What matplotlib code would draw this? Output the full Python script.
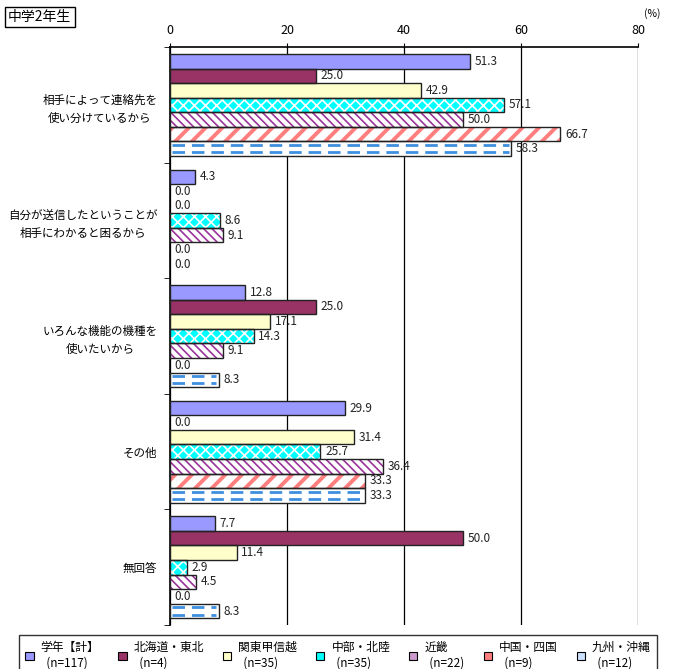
import matplotlib.pyplot as plt
from matplotlib.patches import Patch
import numpy as np

plt.rcParams['font.family'] = ['Noto Sans CJK JP', 'DejaVu Sans']

# --- data ---
categories = [
    "相手によって連絡先を\n使い分けているから",
    "自分が送信したということが\n相手にわかると困るから",
    "いろんな機能の機種を\n使いたいから",
    "その他",
    "無回答",
]
series_names = ["学年【計】", "北海道・東北", "関東甲信越", "中部・北陸", "近畿", "中国・四国", "九州・沖縄"]
series_n = ["(n=117)", "(n=4)", "(n=35)", "(n=35)", "(n=22)", "(n=9)", "(n=12)"]

gakunen = [51.3, 4.3, 12.8, 29.9, 7.7]
hokkaido = [25.0, 0.0, 25.0, 0.0, 50.0]
kanto = [42.9, 0.0, 17.1, 31.4, 11.4]
chubu = [57.1, 8.6, 14.3, 25.7, 2.9]
kinki = [50.0, 9.1, 9.1, 36.4, 4.5]
chugoku = [66.7, 0.0, 0.0, 33.3, 0.0]
kyushu = [58.3, 0.0, 8.3, 33.3, 8.3]
values = [gakunen, hokkaido, kanto, chubu, kinki, chugoku, kyushu]

# style: (face, hatch, hatch colour)
styles = [
    ("#9999FF", None, None),
    ("#993366", None, None),
    ("#FFFFCC", None, None),
    ("#00FFFF", "xxx", "white"),
    ("white", "\\\\\\\\", "#993399"),
    ("white", "//", "#FF7F7F"),
    ("white", None, None),
]

fig = plt.figure(figsize=(6.74, 6.69), dpi=100)
ax = fig.add_axes([170 / 674, 44 / 669, 468 / 674, 578 / 669])

n_cat = len(categories)
bar_h = 0.126
group_pos = np.arange(n_cat)

for i, (vals, (face, hatch, hcol)) in enumerate(zip(values, styles)):
    y = group_pos - 0.44 + bar_h * (i + 0.5)
    if hatch:
        bars = ax.barh(y, vals, height=bar_h, color=face, edgecolor=hcol,
                       linewidth=0, hatch=hatch, zorder=3)
        for b in bars:
            if hasattr(b, "set_hatch_linewidth"):
                b.set_hatch_linewidth(2.8 if i == 5 else 1.2)
    else:
        ax.barh(y, vals, height=bar_h, color=face, linewidth=0, zorder=3)
    # outline
    for yy, v in zip(y, vals):
        if v > 0:
            ax.barh(yy, v, height=bar_h, facecolor="none", edgecolor="#222222",
                    linewidth=1.0, zorder=4)
    if i == 6:
        # dashed blue lines inside the bars
        for yy, v in zip(y, vals):
            if v > 0:
                for off in (-bar_h * 0.25, bar_h * 0.25):
                    ax.plot([0.4, v - 0.4], [yy + off, yy + off], color="#3D8FE0",
                            linewidth=2.0, linestyle=(0, (4.5, 2.5)), zorder=3.5)
    for yy, v in zip(y, vals):
        ax.text(v + 0.8, yy, f"{v:.1f}", va="center", ha="left", fontsize=8.5,
                color="#222222", zorder=5)

ax.set_xlim(0, 80)
ax.set_ylim(n_cat - 0.5, -0.5)
ax.set_xticks([0, 20, 40, 60, 80])
ax.xaxis.tick_top()
ax.tick_params(axis="x", length=3, labelsize=9, pad=4, direction="out")
ax.grid(axis="x", color="black", linewidth=0.9, zorder=0)
ax.set_axisbelow(True)

ax.set_yticks(group_pos)
ax.set_yticklabels(categories, fontsize=8.3, linespacing=1.55, multialignment="center")
ax.tick_params(axis="y", length=0, pad=9)
ax.set_yticks(np.arange(n_cat + 1) - 0.5, minor=True)
ax.tick_params(axis="y", which="minor", length=4, direction="out")

for s in ["top", "left"]:
    ax.spines[s].set_color("black")
    ax.spines[s].set_linewidth(1.2)
ax.spines["right"].set_visible(False)
ax.spines["bottom"].set_visible(False)

fig.text(652 / 674, 1 - 14 / 669, "(%)", fontsize=7.5, ha="center", va="center")
fig.text(8 / 674, 1 - 17 / 669, "中学2年生", fontsize=10, ha="left", va="center",
         bbox=dict(boxstyle="square,pad=0.25", facecolor="white", edgecolor="black", linewidth=1))

# legend
handles = []
for i, (face, hatch, hcol) in enumerate(styles):
    if i == 4:
        face = "#CC99CC"
    elif i == 5:
        face = "#FF7F7F"
    elif i == 6:
        face = "#CCE0FF"
    handles.append(Patch(facecolor=face, edgecolor="black", linewidth=0.8))
labels = [f"{nm}\n  {n}" for nm, n in zip(series_names, series_n)]
leg = fig.legend(handles, labels, loc="lower center", bbox_to_anchor=(338 / 674, -12 / 669),
                 ncol=7, fontsize=8.5, frameon=True, fancybox=False, edgecolor="black",
                 handlelength=0.7, handleheight=0.7, handletextpad=0.6, columnspacing=1.6,
                 borderpad=0.5)
leg.get_frame().set_linewidth(1.0)

fig.savefig("out.png", dpi=100)
